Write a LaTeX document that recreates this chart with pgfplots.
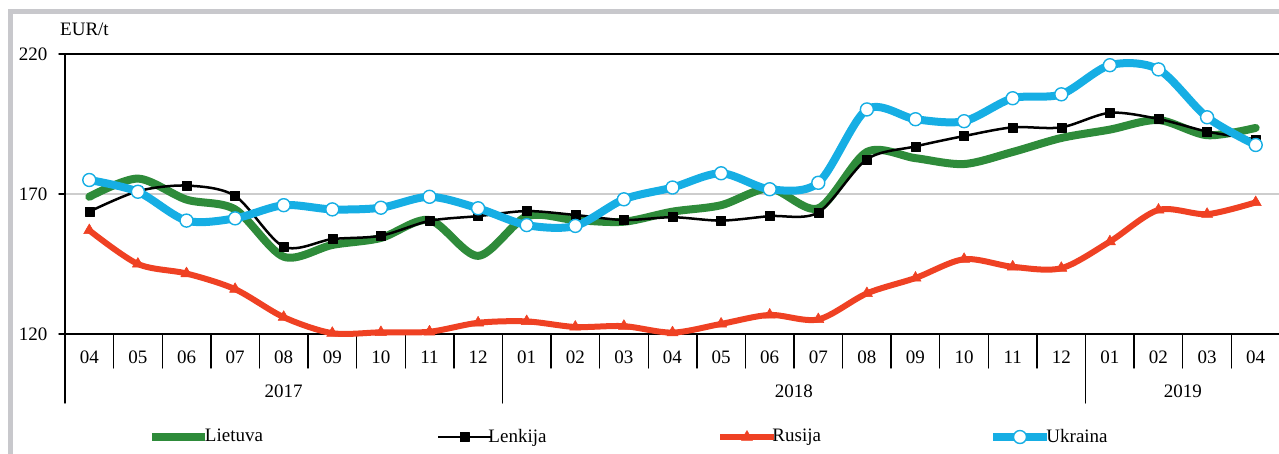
\documentclass[border=0pt]{standalone}
\usepackage{pgfplots}
\pgfplotsset{compat=1.18}
\usepackage{pgfplotstable}
\usepackage{fontspec}
\setmainfont{Liberation Serif}
\definecolor{cL}{RGB}{46,139,58}
\definecolor{cR}{RGB}{239,65,35}
\definecolor{cU}{RGB}{22,174,228}
\definecolor{cFrame}{RGB}{200,200,204}
\definecolor{cGrid}{RGB}{205,205,205}

\pgfplotstableread{
x L P R U
0 169 163.7 157 175
1 175.5 171 145 170.8
2 168 173 141.6 160.5
3 164.5 169.3 136 161.3
4 147.6 151.2 126 166
5 151.8 153.9 120.3 164.5
6 154.3 155.1 120.6 165.1
7 160.7 160.4 120.8 169
8 147.9 162.1 124 164.9
9 162 163.9 124.5 158.9
10 160.7 162.5 122.5 158.6
11 160.1 160.7 122.8 168.1
12 163.7 161.7 120.5 172.3
13 166 160.5 123.6 177.4
14 172 162.1 126.8 171.7
15 164.9 163.4 125.2 174
16 185 182.4 134.5 200.2
17 182.8 187 140 196.7
18 180.7 190.7 146.7 196
19 185 193.8 144 204.2
20 190 193.8 143.5 205.6
21 193 199 153 216
22 196.4 196.8 164.3 214.5
23 191 192.3 162.8 197.4
24 193.6 189.5 167 187.5
}\data

\begin{document}
\fontsize{19}{22}\selectfont
\begin{tikzpicture}[x=1pt,y=1pt]
\useasboundingbox (0,0) rectangle (1279,454);
\draw[cFrame, line width=5pt] (10.5,-20) -- (10.5,442) -- (1300,442);
\node[anchor=base west, inner sep=0pt] at (60,418) {EUR/t};
\begin{axis}[
  at={(65pt,120pt)}, anchor=south west,
  scale only axis, width=1215pt, height=280pt,
  xmin=-0.5, xmax=24.5, ymin=120, ymax=220,
  ytick={120,170,220},
  xtick={0,...,24},
  xticklabels={04,05,06,07,08,09,10,11,12,01,02,03,04,05,06,07,08,09,10,11,12,01,02,03,04},
  minor xtick={0.5,1.5,...,23.5},
  xtick pos=bottom, ytick pos=left,
  tick align=outside,
  major tick length=6pt,
  minor tick length=34pt,
  major x tick style={draw=none},
  tick style={line width=1.4pt, black},
  axis line style={line width=1.6pt},
  ymajorgrids,
  major grid style={cGrid, line width=1.2pt},
  x tick label style={yshift=-4pt},
  y tick label style={xshift=-5pt},
  tick label style={font=\fontsize{19}{22}\selectfont},
  /pgf/number format/assume math mode=true,
  clip=false,
  line cap=round, line join=round,
  legend columns=4,
  legend style={draw=none, fill=none, inner sep=0pt, outer sep=0pt,
    at={(axis description cs:0.0683,-0.3679)}, anchor=west,
    nodes={inner sep=1pt}, column sep=0pt,
    font=\fontsize{19}{22}\selectfont},
  legend image code/.code={\draw[#1, mark repeat=2, mark phase=2] plot coordinates {(0pt,0pt) (26.5pt,0pt) (53pt,0pt)};},
]
\addplot[cL, line width=8pt, smooth, no markers] table[x=x, y=L] {\data};
\addlegendentry{\makebox[226pt][l]{\hspace{-5pt}Lietuva}}
\addplot[black, line width=2.5pt, smooth, mark=square*, mark size=4.5pt, mark options={line width=0.5pt}] table[x=x, y=P] {\data};
\addlegendentry{\makebox[223pt][l]{\hspace{-5pt}Lenkija}}
\addplot[cR, line width=6pt, smooth, mark=triangle*, mark size=6.5pt, mark options={line width=0.5pt}] table[x=x, y=R] {\data};
\addlegendentry{\makebox[211pt][l]{\hspace{-5pt}Rusija}}
\addplot[cU, line width=8pt, smooth, mark=*, mark size=6.5pt, mark options={fill=white, draw=cU, line width=1.4pt}] table[x=x, y=U] {\data};
\addlegendentry{\makebox[150pt][l]{\hspace{-5pt}Ukraina}}
\draw[line width=1.4pt] (axis cs:-0.5,120) -- ++(0pt,-69pt);
\draw[line width=1.4pt] (axis cs:8.5,120) -- ++(0pt,-69pt);
\draw[line width=1.4pt] (axis cs:20.5,120) -- ++(0pt,-69pt);
\node[anchor=center] at ([yshift=-57pt]axis cs:4,120) {2017};
\node[anchor=center] at ([yshift=-57pt]axis cs:14.5,120) {2018};
\node[anchor=center] at ([yshift=-57pt]axis cs:22.5,120) {2019};
\end{axis}
\end{tikzpicture}
\end{document}
